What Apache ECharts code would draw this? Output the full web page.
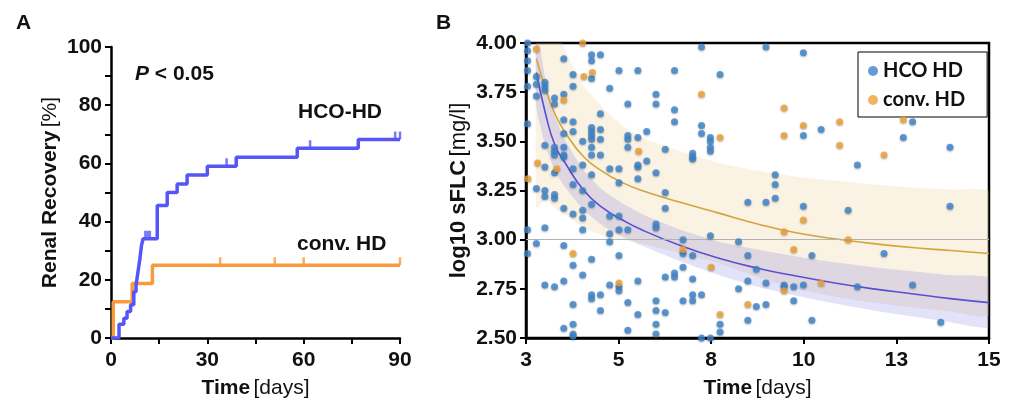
<!DOCTYPE html>
<html>
<head>
<meta charset="utf-8">
<script src="https://cdn.jsdelivr.net/npm/echarts@6/dist/echarts.min.js"></script>
<style>
html,body{margin:0;padding:0;background:#fff;}
#c{width:1016px;height:405px;}
</style>
</head>
<body>
<div id="c"></div>
<script>
// ---------- Panel A: Kaplan-Meier renal recovery ----------
var kmHco = [[0,0],[2.5,4.7],[4.0,6.8],[5.0,9.1],[6.1,11.4],[7.1,15.9],[7.8,18.2],[8.4,22.7],[9.0,27.3],[9.5,31.8],[10.0,34.1],[14.4,45.5],[17.5,50.0],[20.6,52.9],[23.7,56.0],[30.0,59.0],[39.0,62.1],[58.0,65.2],[77.0,68.2],[90,68.2]];
var kmConv = [[0,0],[0.7,12.5],[6.6,18.75],[12.9,25],[90,25]];
var censorHco = [[10.7,34.1],[11.4,34.1],[12.1,34.1],[36.0,59.0],[62.0,65.2],[88.5,68.2],[90,68.2]];
var censorConv = [[34,25],[51,25],[60,25],[90,25]];
var kmXTicks = [0,30,60,90];
var kmYTicks = [0,20,40,60,80,100];

// ---------- Panel B: sFLC over time ----------
var sflcHco = [
[3.04,4.00],[3.04,3.96],[3.04,3.91],[3.04,3.86],[3.04,3.78],[3.04,3.59],[3.04,3.05],[3.04,2.93],
[3.27,3.83],[3.27,3.79],[3.27,3.73],[3.27,3.26],[3.27,2.98],
[3.49,3.80],[3.49,3.78],[3.49,3.76],[3.49,3.48],[3.49,3.37],[3.49,3.25],[3.49,3.22],[3.49,3.06],[3.49,2.77],
[3.74,3.72],[3.74,3.69],[3.74,3.47],[3.74,3.45],[3.74,3.43],[3.74,3.34],[3.74,3.23],[3.74,3.21],[3.74,2.76],
[3.98,3.92],[3.98,3.74],[3.98,3.61],[3.98,3.54],[3.98,3.47],[3.98,3.43],[3.98,3.42],[3.98,3.16],[3.98,2.97],[3.98,2.79],[3.98,2.55],
[4.22,3.84],[4.22,3.78],[4.22,3.60],[4.22,3.55],[4.22,3.36],[4.22,3.28],[4.22,3.13],[4.22,2.87],[4.22,2.67],[4.22,2.57],[4.22,2.52],[4.22,2.51],
[4.47,3.50],[4.47,3.38],[4.47,3.25],[4.47,3.15],[4.47,3.11],[4.47,3.05],[4.47,2.82],
[4.70,3.94],[4.70,3.91],[4.70,3.82],[4.70,3.57],[4.70,3.55],[4.70,3.53],[4.70,3.51],[4.70,3.47],[4.70,3.43],[4.70,3.33],[4.70,3.18],[4.70,2.90],[4.70,2.72],[4.70,2.70],
[4.93,3.94],[4.93,3.64],[4.93,3.56],[4.93,3.51],[4.93,3.43],[4.93,2.72],[4.93,2.64],
[5.17,3.77],[5.17,3.36],[5.17,3.12],[5.17,3.03],[5.17,2.99],[5.17,2.77],
[5.41,3.86],[5.41,3.36],[5.41,3.29],[5.41,3.12],[5.41,3.05],[5.41,2.92],[5.41,2.76],[5.41,2.74],
[5.64,3.69],[5.64,3.53],[5.64,3.51],[5.64,3.47],[5.64,3.05],[5.64,2.68],[5.64,2.54],
[5.90,3.86],[5.90,3.52],[5.90,3.38],[5.90,3.37],[5.90,3.31],[5.90,2.79],[5.90,2.62],
[6.13,3.55],[6.13,3.40],
[6.37,3.74],[6.37,3.69],[6.37,3.34],[6.37,3.08],[6.37,3.06],[6.37,2.69],[6.37,2.64],[6.37,2.57],[6.37,2.52],
[6.61,3.46],[6.61,3.24],[6.61,3.16],[6.61,2.81],[6.61,2.63],
[6.85,3.86],[6.85,3.66],[6.85,3.60],[6.85,2.83],[6.85,2.81],
[7.07,3.00],[7.07,2.93],[7.07,2.86],[7.07,2.69],
[7.32,3.44],[7.32,3.42],[7.32,3.41],[7.32,2.92],[7.32,2.80],[7.32,2.72],[7.32,2.69],
[7.55,3.98],[7.55,3.58],[7.55,3.54],[7.55,2.72],[7.55,2.50],
[7.78,3.52],[7.78,3.50],[7.78,3.47],[7.78,3.45],[7.78,3.02],[7.78,2.50],
[8.03,3.84],[8.03,2.57],[8.03,2.53],
[8.51,2.99],[8.51,2.75],
[8.75,3.19],[8.75,2.92],[8.75,2.79],[8.75,2.59],
[8.97,2.85],[8.97,2.66],
[9.22,3.98],[9.22,3.19],[9.22,2.78],[9.22,2.67],
[9.46,3.33],[9.46,3.28],[9.46,3.21],
[9.69,2.77],[9.69,2.76],
[9.94,2.76],[9.94,2.69],
[10.19,3.95],[10.19,3.53],[10.19,3.17],[10.19,2.77],
[10.41,2.92],[10.41,2.59],
[10.65,3.56],
[11.35,3.15],
[11.59,3.38],[11.59,2.76],
[12.28,2.93],
[12.78,3.52],
[13.02,3.60],[13.02,2.77],
[13.75,2.58],
[13.99,3.47],[13.99,3.17]
];
var sflcConv = [
[3.05,3.31],[3.27,3.97],[3.30,3.39],[3.80,3.36],[3.98,3.71],[4.22,2.93],[4.47,4.00],[4.50,3.83],[4.72,3.85],
[5.41,2.78],[5.92,3.45],[7.07,2.95],[7.55,3.74],[7.80,2.86],[8.03,3.52],[8.03,2.62],[8.75,2.67],
[9.69,3.67],[9.69,3.53],[9.69,3.04],[9.69,2.74],[9.94,2.95],[10.19,3.58],[10.19,3.10],[10.65,2.78],
[11.13,3.60],[11.13,3.48],[11.35,3.00],[12.28,3.43],[12.78,3.61]
];
var fitX       = [3.27,3.5,3.75,4,4.5,5,5.5,6,7,8,9,10,11,12,13,14,15];
var fitConv    = [3.92,3.77,3.64,3.55,3.42,3.345,3.29,3.25,3.19,3.135,3.08,3.035,3.005,2.98,2.96,2.945,2.93];
var fitHco     = [3.85,3.645,3.48,3.395,3.25,3.16,3.10,3.05,2.97,2.905,2.855,2.815,2.78,2.75,2.725,2.70,2.68];
var bandConvHi = [4.70,4.35,4.12,3.97,3.78,3.67,3.58,3.52,3.45,3.39,3.35,3.32,3.30,3.28,3.265,3.255,3.245];
var bandConvLo = [3.16,3.21,3.16,3.13,3.06,3.02,3.00,2.98,2.93,2.88,2.81,2.75,2.71,2.68,2.655,2.635,2.615];
var bandHcoHi  = [4.07,3.82,3.63,3.51,3.35,3.25,3.185,3.13,3.05,2.99,2.95,2.915,2.885,2.86,2.84,2.82,2.805];
var bandHcoLo  = [3.67,3.48,3.35,3.27,3.15,3.07,3.015,2.97,2.89,2.82,2.76,2.715,2.675,2.64,2.61,2.58,2.555];
var refLine = 3.00;
var sflcXTicks = [3,5,8,10,13,15];

var FONT = "'Liberation Sans', Arial, sans-serif";
var chart = echarts.init(document.getElementById('c'), null, {renderer:'canvas'});

function zip(xs, ys){ return xs.map(function(x,i){ return [x, ys[i]]; }); }

function bandSeries(hi, lo, color){
  return {
    type:'custom', xAxisIndex:1, yAxisIndex:1, silent:true, z:1,
    data: fitX.map(function(x,i){ return [x, hi[i], lo[i]]; }),
    renderItem: function(params, api){
      if (params.dataIndex !== 0) return null;
      var pts = [];
      for (var i=0;i<fitX.length;i++) pts.push(api.coord([fitX[i], hi[i]]));
      for (var j=fitX.length-1;j>=0;j--) pts.push(api.coord([fitX[j], lo[j]]));
      var cs = params.coordSys;
      return {
        type:'group',
        clipPath:{type:'rect', shape:{x:cs.x, y:cs.y, width:cs.width, height:cs.height}},
        children:[{type:'polygon', shape:{points:pts, smooth:0.15}, style:{fill:color}}]
      };
    }
  };
}

var axisLine = {show:true, lineStyle:{color:'#000', width:2.5}};
var axisTick = {show:true, length:6, inside:false, lineStyle:{color:'#000', width:2}};
var lbl = {color:'#111', fontFamily:FONT, fontWeight:'bold', fontSize:21};

var option = {
  animation:false,
  backgroundColor:'#fff',
  grid:[
    {left:111, top:47, width:289, height:291, show:false},
    {left:526, top:43, width:463, height:295, show:true, borderColor:'#000', borderWidth:2.5, backgroundColor:'transparent'}
  ],
  legend:{
    data:['HCO HD','conv. HD'], left:858, top:52, orient:'vertical',
    borderColor:'#000', borderWidth:1, padding:[9,22,7,10], itemGap:9,
    itemWidth:10, itemHeight:10, icon:'circle', selectedMode:false,
    textStyle:{fontFamily:"Lato, 'Open Sans', sans-serif", fontWeight:'bold', fontSize:20, color:'#111'},
    backgroundColor:'#fff'
  },
  xAxis:[
    {gridIndex:0, type:'value', min:0, max:90, interval:15,
     axisLine:axisLine, axisTick:axisTick, splitLine:{show:false},
     axisLabel:Object.assign({margin:12, formatter:function(v){ return kmXTicks.indexOf(v)>=0 ? String(v) : ''; }}, lbl),
     name:'{b|Time} {n|[days]}', nameLocation:'middle', nameGap:40,
     nameTextStyle:{rich:{b:{fontFamily:FONT,fontWeight:'bold',fontSize:21,color:'#111'}, n:{fontFamily:FONT,fontWeight:'normal',fontSize:21,color:'#111'}}}},
    {gridIndex:1, type:'value', min:3, max:15, interval:2.4,
     axisLine:axisLine, axisTick:axisTick, splitLine:{show:false},
     axisLabel:Object.assign({margin:12, formatter:function(v){ return String(Math.round(v)); }}, lbl),
     name:'{b|Time} {n|[days]}', nameLocation:'middle', nameGap:40,
     nameTextStyle:{rich:{b:{fontFamily:FONT,fontWeight:'bold',fontSize:21,color:'#111'}, n:{fontFamily:FONT,fontWeight:'normal',fontSize:21,color:'#111'}}}}
  ],
  yAxis:[
    {gridIndex:0, type:'value', min:0, max:100, interval:10,
     axisLine:axisLine, axisTick:axisTick, splitLine:{show:false},
     axisLabel:Object.assign({margin:9, formatter:function(v){ return kmYTicks.indexOf(v)>=0 ? String(v) : ''; }}, lbl),
     name:'{b|Renal Recovery} {n|[%]}', nameLocation:'middle', nameGap:50, nameRotate:90,
     nameTextStyle:{rich:{b:{fontFamily:FONT,fontWeight:'bold',fontSize:21,color:'#111'}, n:{fontFamily:FONT,fontWeight:'normal',fontSize:21,color:'#111'}}}},
    {gridIndex:1, type:'value', min:2.5, max:4, interval:0.25,
     axisLine:axisLine, axisTick:axisTick, splitLine:{show:false},
     axisLabel:Object.assign({margin:9, formatter:function(v){ return v.toFixed(2); }}, lbl),
     name:'{b|log10 sFLC} {n|[mg/l]}', nameLocation:'middle', nameGap:56, nameRotate:90,
     nameTextStyle:{rich:{b:{fontFamily:FONT,fontWeight:'bold',fontSize:22,color:'#111'}, n:{fontFamily:FONT,fontWeight:'normal',fontSize:22,color:'#111'}}}}
  ],
  graphic:[
    {type:'text', x:16, y:23, style:{text:'A', font:'bold 21px '+FONT, fill:'#111', verticalAlign:'middle'}},
    {type:'text', x:436, y:23, style:{text:'B', font:'bold 21px '+FONT, fill:'#111', verticalAlign:'middle'}},
    {type:'text', x:135, y:74, style:{text:'{i|P} < 0.05', font:'bold 21px '+FONT, fill:'#111', verticalAlign:'middle',
      rich:{i:{fontStyle:'italic', fontWeight:'bold', fontSize:21, fontFamily:FONT, fill:'#111'}}}},
    {type:'text', x:298, y:112, style:{text:'HCO-HD', font:'bold 21px '+FONT, fill:'#111', verticalAlign:'middle'}},
    {type:'text', x:297, y:244, style:{text:'conv. HD', font:'bold 21px '+FONT, fill:'#111', verticalAlign:'middle'}}
  ],
  series:[
    // Panel A
    {name:'kmConv', type:'line', xAxisIndex:0, yAxisIndex:0, step:'end', data:kmConv, showSymbol:false,
     lineStyle:{color:'#f99a3d', width:3.5}, z:3},
    {name:'kmHco', type:'line', xAxisIndex:0, yAxisIndex:0, step:'end', data:kmHco, showSymbol:false,
     lineStyle:{color:'#5656f6', width:3.5}, z:4},
    {name:'censConv', type:'scatter', xAxisIndex:0, yAxisIndex:0, data:censorConv, symbol:'rect',
     symbolSize:[2.5,8], symbolOffset:[0,-4], itemStyle:{color:'#f99a3d'}, z:3, silent:true},
    {name:'censHco', type:'scatter', xAxisIndex:0, yAxisIndex:0, data:censorHco, symbol:'rect',
     symbolSize:[2.5,8], symbolOffset:[0,-4], itemStyle:{color:'#5656f6'}, z:4, silent:true},
    // Panel B bands
    bandSeries(bandConvHi, bandConvLo, 'rgba(236,200,140,0.24)'),
    bandSeries(bandHcoHi, bandHcoLo, 'rgba(110,110,225,0.2)'),
    // Fit lines + reference
    {name:'fitConv', type:'line', xAxisIndex:1, yAxisIndex:1, data:zip(fitX, fitConv), smooth:true, showSymbol:false,
     lineStyle:{color:'#d3a53c', width:1.6}, z:3,
     markLine:{silent:true, symbol:'none', label:{show:false}, lineStyle:{color:'#aeb4b8', width:1.2, type:'solid'},
       data:[{yAxis:refLine}]}},
    {name:'fitHco', type:'line', xAxisIndex:1, yAxisIndex:1, data:zip(fitX, fitHco), smooth:true, showSymbol:false,
     lineStyle:{color:'#5a4fd2', width:1.6}, z:3},
    // Scatter
    {name:'HCO HD', type:'scatter', xAxisIndex:1, yAxisIndex:1, data:sflcHco, symbol:'circle', symbolSize:7,
     itemStyle:{color:'#3d84cb', shadowBlur:2, shadowColor:'rgba(0,0,0,0.35)', shadowOffsetY:1}, z:5},
    {name:'conv. HD', type:'scatter', xAxisIndex:1, yAxisIndex:1, data:sflcConv, symbol:'circle', symbolSize:7,
     itemStyle:{color:'#efa136', shadowBlur:2, shadowColor:'rgba(0,0,0,0.35)', shadowOffsetY:1}, z:5}
  ]
};
chart.setOption(option);
</script>
</body>
</html>
